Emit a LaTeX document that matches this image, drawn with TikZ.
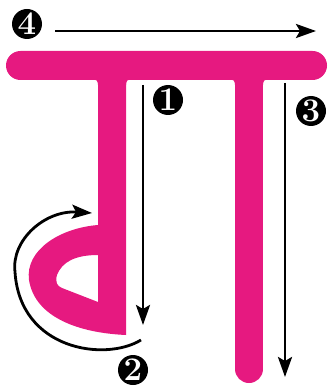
\documentclass[tikz,border=0pt]{standalone}
\usetikzlibrary{arrows.meta}
\definecolor{mag}{RGB}{230,25,128}
\begin{document}
\begin{tikzpicture}[x=1pt,y=-1pt,
  guide/.style={line width=2.8pt, -{Stealth[length=20pt,width=14pt,inset=4pt]}},
  num/.style={circle, fill=black, text=white, inner sep=0pt, minimum size=30pt,
    font=\fontsize{33}{33}\selectfont\bfseries}]
\useasboundingbox (0,0) rectangle (328,390);
% top bar
\fill[mag, rounded corners=14.5pt] (6,51) rectangle (327,80);
% right stem
\draw[mag, line width=28pt, line cap=round] (249,66) -- (249,369);
% small fillets where the stems meet the bar
\fill[mag] (230,79) -- (235,79) -- (235,85) .. controls (235,81) and (233,79) .. (230,79) -- cycle;
\fill[mag] (268,79) -- (263,79) -- (263,85) .. controls (263,81) and (265,79) .. (268,79) -- cycle;
\fill[mag] (93,79) -- (98,79) -- (98,85) .. controls (98,81) and (96,79) .. (93,79) -- cycle;
\fill[mag] (131,79) -- (126,79) -- (126,85) .. controls (126,81) and (128,79) .. (131,79) -- cycle;
% left stem with bowl
\fill[mag, even odd rule]
  (98,66) -- (126,66) -- (126,335)
  .. controls (80,333) and (35,318) .. (29,280)
  .. controls (25,250) and (60,228) .. (98,225) -- cycle
  (98,255) .. controls (75,255) and (62,262) .. (57,275)
  .. controls (55,282) and (57,286) .. (62,288) -- (98,302) -- cycle;
% numbers
\node[num] (n4) at (27,24) {4};
\node[num] (n1) at (168,100) {1};
\node[num] (n3) at (311,111) {3};
\node[num] (n2) at (133,370) {2};
% guide arrows
\coordinate (a4s) at (55,31);
\coordinate (a4e) at (316,31);
\coordinate (a1s) at (143,85);
\coordinate (a1e) at (143,325);
\coordinate (a3s) at (285,83);
\coordinate (a3e) at (285,377);
\coordinate (a2s) at (141,340);
\coordinate (a2m) at (15,272);
\coordinate (a2e) at (92,213);
\draw[guide] (a4s) -- (a4e);
\draw[guide] (a1s) -- (a1e);
\draw[guide] (a3s) -- (a3e);
\draw[guide] (a2s) .. controls (105,362) and (20,350) .. (a2m)
  .. controls (11,240) and (45,210) .. (a2e);
\end{tikzpicture}
\end{document}
